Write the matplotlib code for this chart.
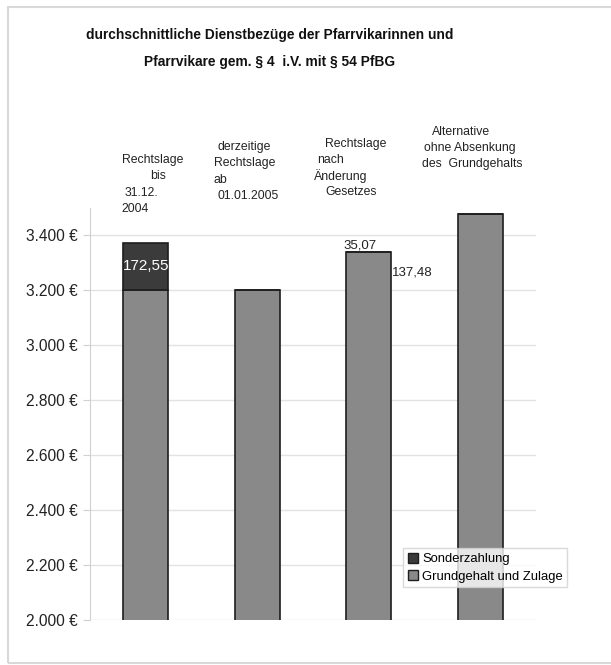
import matplotlib
matplotlib.use("Agg")
import matplotlib.pyplot as plt
from matplotlib.patches import Patch, Rectangle
import numpy as np

plt.rcParams['font.family'] = ['Liberation Sans', 'DejaVu Sans']

# ---- data ----
categories = ["Rechtslage bis 31.12.2004", "derzeitige Rechtslage ab 01.01.2005",
              "Rechtslage nach Änderung Gesetzes", "Alternative ohne Absenkung des Grundgehalts"]
grundgehalt = [3200, 3200, 3337.48, 3475]
sonderzahlung = [172.55, 0, 0, 0]
yticks = [2000, 2200, 2400, 2600, 2800, 3000, 3200, 3400]
ytick_labels = ["2.000 €", "2.200 €", "2.400 €", "2.600 €", "2.800 €", "3.000 €", "3.200 €", "3.400 €"]
title = "durchschnittliche Dienstbezüge der Pfarrvikarinnen und\nPfarrvikare gem. § 4  i.V. mit § 54 PfBG"

W, H = 611, 665
fig = plt.figure(figsize=(W / 100, H / 100), dpi=100)
fig.patch.set_facecolor("white")

def fx(px):
    return px / W

def fy(py):
    return 1 - py / H

# frame around the chart
fig.add_artist(Rectangle((fx(8), fy(663)), fx(640) - fx(8), fy(7) - fy(663),
                         transform=fig.transFigure, fill=False, edgecolor="#d8d8d8", lw=1.5))

ax = fig.add_axes([fx(90), fy(620), fx(536) - fx(90), fy(207.5) - fy(620)])
x = np.arange(len(categories))
bw = 0.4
ax.bar(x, grundgehalt, width=bw, color="#898989", edgecolor="#1e1e1e", linewidth=1.2, zorder=3)
ax.bar(x, sonderzahlung, width=bw, bottom=grundgehalt, color="#3b3b3b", edgecolor="#1e1e1e",
       linewidth=1.2, zorder=3)

ax.set_xlim(-0.5, len(categories) - 0.5)
ax.set_ylim(2000, 3500)
ax.set_yticks(yticks)
ax.set_yticklabels(ytick_labels, fontsize=11.2, color="#222222")
ax.set_xticks([])
ax.grid(axis="y", color="#e2e2e2", lw=1.0, zorder=0)
for s in ["top", "right", "bottom"]:
    ax.spines[s].set_visible(False)
ax.spines["left"].set_color("#d0d0d0")
ax.tick_params(axis="y", color="#d0d0d0", length=5, pad=4)
ax.set_facecolor("white")

# value labels
ax.text(x[0], grundgehalt[0] + sonderzahlung[0] / 2, "172,55", color="white",
        fontsize=11, ha="center", va="center", zorder=5)
ax.text(x[2] - bw / 2 - 0.03, grundgehalt[2] + 4, "35,07", fontsize=9.5, ha="left", va="bottom",
        color="#222222", zorder=5)
ax.text(x[2] + bw / 2 + 0.01, 3262, "137,48", fontsize=9.5, ha="left", va="center",
        color="#222222", zorder=5)

# category labels (as drawn in the original, line by line)
cat_lines = [
    [("Rechtslage", 122, 160), ("bis", 150, 176), ("31.12.", 125, 193), ("2004", 121, 209)],
    [("derzeitige", 218, 147), ("Rechtslage", 214, 163), ("ab", 214, 180), ("01.01.2005", 218, 196)],
    [("Rechtslage", 325, 144), ("nach", 317, 160), ("Änderung", 314, 176), ("Gesetzes", 325, 192)],
    [("Alternative", 432, 132), ("ohne Absenkung", 424, 148), ("des  Grundgehalts", 422, 164)],
]
for lines in cat_lines:
    for txt, px, py in lines:
        fig.text(fx(px), fy(py), txt, fontsize=8.8, ha="left", va="center", color="#222222")

fig.text(fx(270), fy(35), title.split("\n")[0], fontsize=9.9, fontweight="bold",
         ha="center", va="center", color="#111111")
fig.text(fx(270), fy(62), title.split("\n")[1], fontsize=9.9, fontweight="bold",
         ha="center", va="center", color="#111111")

handles = [Patch(facecolor="#3b3b3b", edgecolor="#1e1e1e", label="Sonderzahlung"),
           Patch(facecolor="#898989", edgecolor="#1e1e1e", label="Grundgehalt und Zulage")]
leg = fig.legend(handles=handles, loc="upper left", bbox_to_anchor=(fx(403), fy(548)),
                 fontsize=9.4, frameon=True, fancybox=False, edgecolor="#d0d0d0",
                 handlelength=0.8, handleheight=0.8, handletextpad=0.3, borderpad=0.35,
                 labelspacing=0.4, borderaxespad=0)
leg.get_frame().set_linewidth(1.0)

fig.savefig("out.png", dpi=100, facecolor="white")
